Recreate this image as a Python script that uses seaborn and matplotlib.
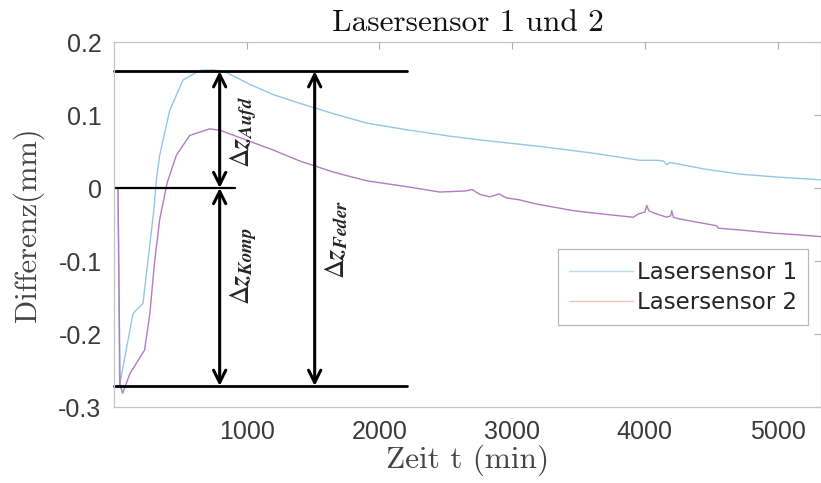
import numpy as np
import pandas as pd
import seaborn as sns
import matplotlib.pyplot as plt
from matplotlib.lines import Line2D

# ---------------- data ----------------
t1 = [0, 30, 42, 143, 218, 268, 300, 320, 344, 419, 520, 645, 750, 850, 1023,
      1200, 1400, 1650, 1903, 2200, 2531, 2800, 3209, 3600, 3963, 4089, 4140,
      4165, 4190, 4450, 4717, 5000, 5330]
y1 = [0.0, 0.0, -0.27, -0.172, -0.158, -0.08, -0.03, 0.013, 0.045, 0.106, 0.148,
      0.161, 0.162, 0.158, 0.142, 0.128, 0.116, 0.102, 0.089, 0.080, 0.071,
      0.065, 0.057, 0.048, 0.038, 0.038, 0.037, 0.032, 0.035, 0.026, 0.019,
      0.015, 0.0112]

t2 = [0, 30, 45, 65, 120, 230, 270, 305, 345, 400, 470, 570, 720, 800, 1023,
      1200, 1400, 1650, 1900, 2200, 2455, 2650, 2700, 2732, 2760, 2833, 2900,
      2958, 3050, 3185, 3461, 3700, 3913, 3951, 4000, 4014, 4030, 4064, 4165,
      4195, 4203, 4215, 4265, 4400, 4542, 4554, 4750, 4969, 5150, 5330]
y2 = [0.0, 0.0, -0.27, -0.281, -0.254, -0.222, -0.172, -0.102, -0.042, 0.007,
      0.045, 0.072, 0.081, 0.079, 0.064, 0.052, 0.037, 0.022, 0.010, 0.002,
      -0.0055, -0.004, -0.002, -0.006, -0.009, -0.012, -0.008, -0.0137, -0.016,
      -0.022, -0.031, -0.036, -0.040, -0.0355, -0.033, -0.024, -0.031, -0.034,
      -0.040, -0.038, -0.031, -0.040, -0.0425, -0.047, -0.0517, -0.055, -0.058,
      -0.0619, -0.064, -0.0666]

series_names = ["Lasersensor 1", "Lasersensor 2"]

yticks = [-0.3, -0.2, -0.1, 0.0, 0.1, 0.2]
ytick_labels = ["-0.3", "-0.2", "-0.1", "0", "0.1", "0.2"]
xticks = [1000, 2000, 3000, 4000, 5000]
xtick_labels = ["1000", "2000", "3000", "4000", "5000"]

# annotation levels
lvl_top, lvl_zero, lvl_bot = 0.16, 0.0, -0.271
hline_end_long, hline_end_short = 2210, 910
arrow_x1, arrow_x2 = 796, 1512

# ---------------- plot ----------------
sns.set_style("white")
plt.rcParams["font.family"] = ["Liberation Sans", "DejaVu Sans"]
plt.rcParams["mathtext.fontset"] = "stix"
plt.rcParams["axes.unicode_minus"] = False

fig = plt.figure(figsize=(8.21, 4.83), dpi=100)
ax = fig.add_axes([0.1389, 0.1573, 0.8615, 0.7557])

df = pd.concat([
    pd.DataFrame({"t": t1, "d": y1, "s": series_names[0]}),
    pd.DataFrame({"t": t2, "d": y2, "s": series_names[1]}),
])
c1, c2 = "#92c8e5", "#b27cc2"
sns.lineplot(data=df, x="t", y="d", hue="s", palette=[c1, c2], estimator=None,
             sort=False, lw=1.0, legend=False, ax=ax)

ax.set_xlim(0, 5330)
ax.set_ylim(-0.3, 0.2)
ax.set_xticks(xticks)
ax.set_xticklabels(xtick_labels)
ax.set_yticks(yticks)
ax.set_yticklabels(ytick_labels)

for sp in ax.spines.values():
    sp.set_color("#c4c4c4")
    sp.set_linewidth(0.9)
ax.tick_params(direction="in", length=5, width=0.8, color="#b0b0b0",
               top=True, right=True, labelsize=18, labelcolor="#3a3a3a", pad=9)

ax.set_title("Lasersensor 1 und 2", family="cmr10", fontsize=22.5, color="#111111", pad=8)
ax.set_xlabel("Zeit t (min)", family="cmr10", fontsize=22.5, color="#444444", labelpad=1)
ax.set_ylabel("Differenz(mm)", family="cmr10", fontsize=22, color="#444444", labelpad=10)

# horizontal reference lines
ax.plot([0, hline_end_long], [lvl_top, lvl_top], color="black", lw=2, clip_on=False)
ax.plot([0, hline_end_long], [lvl_bot, lvl_bot], color="black", lw=2, clip_on=False)
ax.plot([0, hline_end_short], [lvl_zero, lvl_zero], color="black", lw=1.6)

aprops = dict(arrowstyle="<->", color="black", lw=2.2, mutation_scale=22,
              shrinkA=0, shrinkB=0)
ax.annotate("", xy=(arrow_x1, lvl_top), xytext=(arrow_x1, lvl_zero), arrowprops=aprops)
ax.annotate("", xy=(arrow_x1, lvl_zero), xytext=(arrow_x1, lvl_bot), arrowprops=aprops)
ax.annotate("", xy=(arrow_x2, lvl_top), xytext=(arrow_x2, lvl_bot), arrowprops=aprops)

ax.text(975, 0.077, r"$\Delta\mathbfit{z}_{\mathbfit{Aufd}}$", rotation=90,
        ha="center", va="center", fontsize=19.5)
ax.text(975, -0.107, r"$\Delta\mathbfit{z}_{\mathbfit{Komp}}$", rotation=90,
        ha="center", va="center", fontsize=19.5)
ax.text(1680, -0.070, r"$\Delta\mathbfit{z}_{\mathbfit{Feder}}$", rotation=90,
        ha="center", va="center", fontsize=19.5)

handles = [Line2D([], [], color="#b8dcf0", lw=1.0), Line2D([], [], color="#f5c4b4", lw=1.0)]
leg = ax.legend(handles, series_names, loc="upper right", bbox_to_anchor=(0.9816, 0.432),
                prop={"family": "DejaVu Sans", "size": 16.5}, frameon=True, fancybox=False,
                handlelength=2.8, borderpad=0.5, labelspacing=0.3, handletextpad=0.15,
                borderaxespad=0)
leg.get_frame().set_edgecolor("#a8a8a8")
leg.get_frame().set_linewidth(0.9)
for txt in leg.get_texts():
    txt.set_color("#262626")

fig.savefig("out.png", dpi=100)
